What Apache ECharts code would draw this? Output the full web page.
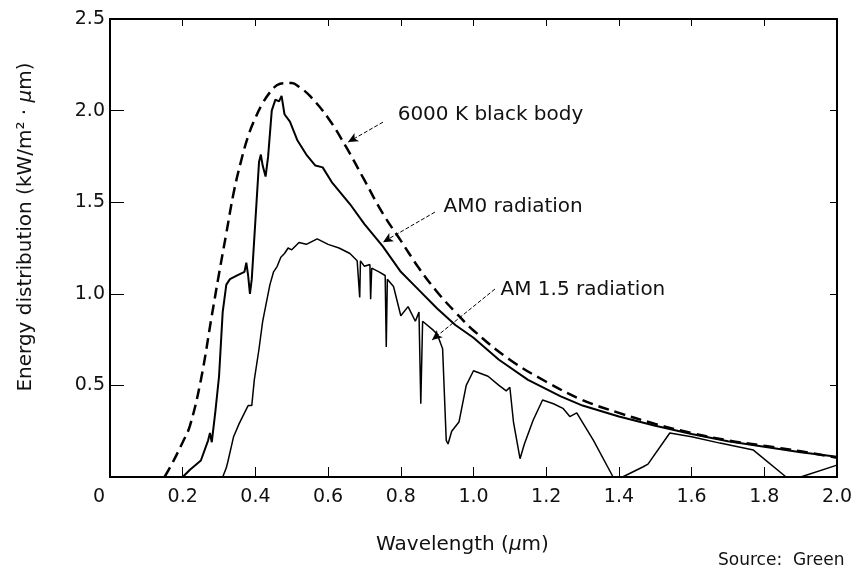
<!DOCTYPE html>
<html>
<head>
<meta charset="utf-8">
<script src="https://cdn.jsdelivr.net/npm/echarts@6/dist/echarts.min.js"></script>
<style>
  html, body { margin: 0; padding: 0; background: #fff; }
  #chart { width: 865px; height: 569px; }
</style>
</head>
<body>
<div id="chart"></div>
<script>
// 6000 K black body (dashed)
const bbX = [0.15, 0.17, 0.20, 0.22, 0.25, 0.28, 0.30, 0.32, 0.34, 0.36, 0.38, 0.40, 0.42, 0.44, 0.46, 0.48, 0.50, 0.52, 0.55, 0.60, 0.65, 0.70, 0.75, 0.80, 0.85, 0.90, 0.95, 1.00, 1.10, 1.20, 1.30, 1.40, 1.50, 1.60, 1.70, 1.80, 1.90, 2.00]
const bbY = [0, 0.07, 0.19, 0.28, 0.53, 0.88, 1.11, 1.33, 1.55, 1.72, 1.86, 1.96, 2.04, 2.10, 2.14, 2.15, 2.15, 2.13, 2.08, 1.96, 1.80, 1.62, 1.44, 1.29, 1.14, 1.01, 0.90, 0.80, 0.64, 0.52, 0.42, 0.35, 0.29, 0.24, 0.20, 0.17, 0.14, 0.105]

// AM0 radiation
const am0X = [0.20, 0.22, 0.25, 0.27, 0.275, 0.28, 0.29, 0.30, 0.31, 0.32, 0.33, 0.35, 0.37, 0.375, 0.38, 0.385, 0.39, 0.40, 0.41, 0.415, 0.42, 0.428, 0.435, 0.445, 0.455, 0.465, 0.472, 0.48, 0.495, 0.515, 0.54, 0.565, 0.585, 0.61, 0.66, 0.70, 0.75, 0.80, 0.85, 0.90, 0.95, 1.00, 1.07, 1.15, 1.24, 1.30, 1.40, 1.50, 1.60, 1.70, 1.80, 1.90, 2.00]
const am0Y = [0, 0.04, 0.09, 0.20, 0.24, 0.19, 0.36, 0.55, 0.90, 1.05, 1.08, 1.10, 1.12, 1.17, 1.10, 1.00, 1.08, 1.40, 1.72, 1.76, 1.70, 1.64, 1.75, 2.00, 2.06, 2.05, 2.08, 1.98, 1.94, 1.84, 1.76, 1.70, 1.69, 1.61, 1.49, 1.38, 1.26, 1.12, 1.02, 0.92, 0.83, 0.76, 0.64, 0.53, 0.44, 0.39, 0.33, 0.28, 0.235, 0.195, 0.165, 0.135, 0.11]

// AM 1.5 radiation
const am15X = [0.30, 0.31, 0.32, 0.325, 0.34, 0.355, 0.37, 0.38, 0.39, 0.397, 0.41, 0.42, 0.43, 0.44, 0.45, 0.46, 0.47, 0.48, 0.49, 0.50, 0.52, 0.54, 0.57, 0.60, 0.63, 0.66, 0.68, 0.685, 0.687, 0.689, 0.70, 0.715, 0.717, 0.72, 0.74, 0.757, 0.76, 0.763, 0.78, 0.80, 0.82, 0.84, 0.85, 0.855, 0.86, 0.89, 0.90, 0.915, 0.925, 0.93, 0.94, 0.96, 0.98, 1.00, 1.04, 1.07, 1.09, 1.10, 1.11, 1.128, 1.14, 1.164, 1.19, 1.22, 1.246, 1.265, 1.284, 1.33, 1.384, 1.41, 1.467, 1.48, 1.54, 1.60, 1.678, 1.77, 1.86, 1.90, 2.00]
const am15Y = [0, 0, 0.05, 0.09, 0.22, 0.29, 0.35, 0.39, 0.39, 0.53, 0.70, 0.85, 0.95, 1.05, 1.12, 1.15, 1.20, 1.22, 1.25, 1.24, 1.28, 1.27, 1.30, 1.27, 1.25, 1.22, 1.18, 1.19, 0.98, 1.18, 1.15, 1.16, 0.97, 1.14, 1.12, 1.10, 0.71, 1.08, 1.04, 0.88, 0.93, 0.85, 0.90, 0.40, 0.85, 0.80, 0.78, 0.70, 0.20, 0.18, 0.25, 0.30, 0.50, 0.58, 0.55, 0.50, 0.47, 0.49, 0.30, 0.10, 0.18, 0.31, 0.42, 0.40, 0.375, 0.33, 0.35, 0.20, 0, 0, 0.056, 0.07, 0.24, 0.22, 0.185, 0.147, 0, 0, 0.065]

// annotations: [label, textX, textY, arrowFromX, arrowFromY, arrowToX, arrowToY]
const notes = [
  ['6000 K black body', 0.79, 1.975, 0.751, 1.937, 0.655, 1.828],
  ['AM0 radiation', 0.916, 1.473, 0.894, 1.446, 0.751, 1.282],
  ['AM 1.5 radiation', 1.073, 1.02, 1.059, 1.026, 0.886, 0.748]
]

const pairs = (xs, ys) => xs.map((x, i) => [x, ys[i]])
const font = 'DejaVu Sans'

const chart = echarts.init(document.getElementById('chart'))

const noteLines = notes.map(n => ([
  { coord: [n[3], n[4]], symbol: 'none' },
  { coord: [n[5], n[6]], symbol: 'arrow', symbolSize: [7, 10] }
]))

const noteLabels = notes.map(n => ({
  coord: [n[1], n[2]],
  symbol: 'circle',
  symbolSize: 1,
  itemStyle: { color: 'rgba(0,0,0,0)' },
  label: {
    show: true, formatter: n[0], position: 'right', distance: 0,
    color: '#111', fontFamily: font, fontSize: 20
  }
}))

const option = {
  animation: false,
  backgroundColor: '#fff',
  grid: { left: 110, right: 28, top: 19, bottom: 92 },
  xAxis: [
    {
      type: 'value', min: 0, max: 2, interval: 0.2,
      name: 'Wavelength ({i|μ}m)',
      nameLocation: 'middle', nameGap: 58,
      nameTextStyle: {
        color: '#111', fontFamily: font, fontSize: 20, padding: [0, 22, 0, 0],
        rich: { i: { fontStyle: 'italic', fontFamily: font, fontSize: 20, color: '#111' } }
      },
      axisLine: { onZero: false, lineStyle: { color: '#000', width: 2 } },
      axisTick: { inside: true, length: 10, lineStyle: { color: '#000', width: 1 } },
      axisLabel: {
        color: '#111', fontFamily: font, fontSize: 19, margin: 11,
        formatter: v => v === 0 ? '{z|0}' : v.toFixed(1),
        rich: { z: { padding: [0, 22, 0, 0], fontFamily: font, fontSize: 19, color: '#111' } }
      },
      splitLine: { show: false }
    },
    {
      type: 'value', min: 0, max: 2, interval: 0.2, position: 'top',
      axisLine: { show: true, onZero: false, lineStyle: { color: '#000', width: 2 } },
      axisTick: { show: true, inside: true, length: 7, lineStyle: { color: '#000' } },
      axisLabel: { show: false },
      splitLine: { show: false }
    }
  ],
  yAxis: [
    {
      type: 'value', min: 0, max: 2.5, interval: 0.5,
      name: 'Energy distribution (kW/m² · {i|μ}m)',
      nameLocation: 'middle', nameGap: 74,
      nameTextStyle: {
        color: '#111', fontFamily: font, fontSize: 20, padding: [0, 0, 0, 42],
        rich: { i: { fontStyle: 'italic', fontFamily: font, fontSize: 20, color: '#111' } }
      },
      axisLine: { show: true, onZero: false, lineStyle: { color: '#000', width: 2 } },
      axisTick: { show: true, inside: true, length: 14, lineStyle: { color: '#000', width: 1 } },
      axisLabel: {
        color: '#111', fontFamily: font, fontSize: 19, margin: 5,
        formatter: v => v === 0 ? '' : v.toFixed(1)
      },
      splitLine: { show: false }
    },
    {
      type: 'value', min: 0, max: 2.5, interval: 0.5, position: 'right',
      axisLine: { show: true, onZero: false, lineStyle: { color: '#000', width: 2 } },
      axisTick: { show: true, inside: true, length: 7, lineStyle: { color: '#000' } },
      axisLabel: { show: false },
      splitLine: { show: false }
    }
  ],
  series: [
    {
      name: '6000 K black body',
      type: 'line',
      data: pairs(bbX, bbY),
      smooth: 0.4,
      showSymbol: false,
      lineStyle: { color: '#000', width: 2.5, type: [11, 6] }
    },
    {
      name: 'AM0 radiation',
      type: 'line',
      data: pairs(am0X, am0Y),
      showSymbol: false,
      lineStyle: { color: '#000', width: 2 },
      markLine: {
        silent: true,
        label: { show: false },
        lineStyle: { color: '#000', width: 1, type: [4, 2] },
        data: noteLines
      },
      markPoint: {
        silent: true,
        data: noteLabels
      }
    },
    {
      name: 'AM 1.5 radiation',
      type: 'line',
      data: pairs(am15X, am15Y),
      showSymbol: false,
      lineStyle: { color: '#000', width: 1.5 }
    }
  ],
  graphic: [
    {
      type: 'text', left: 718, top: 552,
      style: { text: 'Source:  Green', fill: '#111', font: '17px "DejaVu Sans"' }
    }
  ]
}

chart.setOption(option)
window.addEventListener('resize', () => chart.resize())
</script>
</body>
</html>
